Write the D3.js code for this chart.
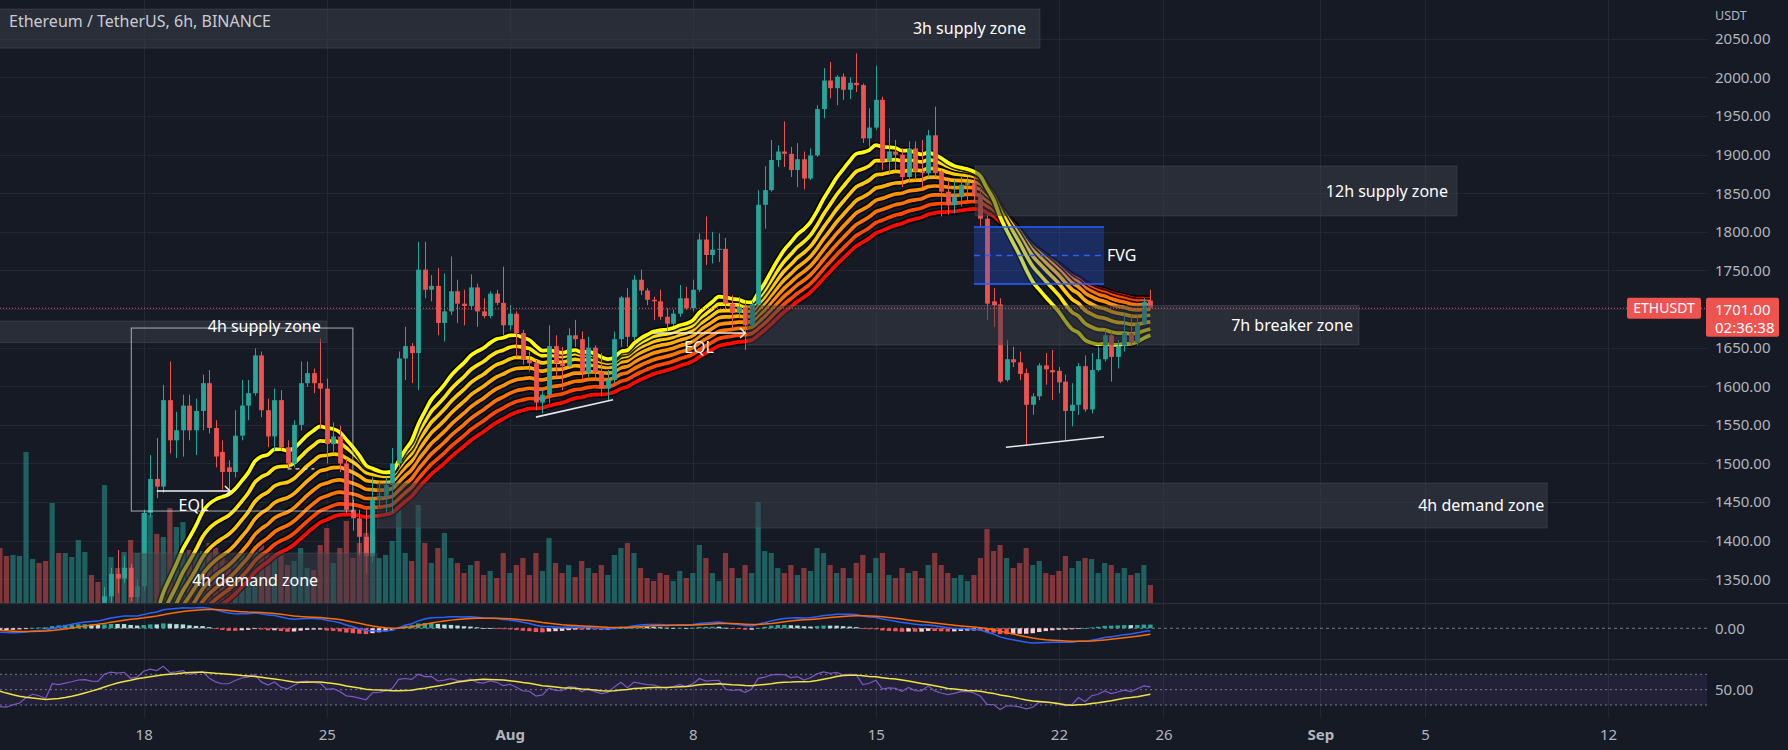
<!DOCTYPE html>
<html><head><meta charset="utf-8">
<script src="https://cdn.jsdelivr.net/npm/d3@7"></script>
<style>html,body{margin:0;background:#161a25;}svg{display:block}</style>
</head><body>
<svg id="c" width="1788" height="750"></svg>
<script>
// ---------- DATA (ETHUSDT 6h, first bar 2022-07-12 12:00 UTC) ----------
const FIRST_BAR = Date.UTC(2022,6,12,12);
const BAR_MS = 6*3600*1000;
const O=[1060,1045,1038,1050,1060,1090,1113,1100,1075,1200,1192,1210,1225,1245,1250,1244,1238,1328,1357,1351,
1365,1327,1341,1436,1480,1470,1582,1530,1543,1575,1543,1568,1604,1546,1515,1495,1489,1536,1575,1591,
1640,1569,1535,1582,1521,1500,1550,1604,1617,1604,1597,1525,1535,1500,1440,1429,1405,1380,1453,1458,
1472,1500,1636,1652,1643,1751,1725,1730,1682,1697,1723,1707,1704,1728,1697,1691,1720,1708,1679,1694,
1669,1634,1630,1579,1589,1652,1630,1626,1666,1661,1618,1650,1618,1597,1608,1661,1715,1664,1738,1724,
1712,1710,1690,1681,1694,1714,1701,1725,1790,1770,1777,1778,1707,1695,1703,1679,1706,1835,1854,1893,
1904,1901,1880,1894,1869,1899,1959,1996,1986,2001,1984,1993,1990,1921,1935,1971,1891,1904,1900,1871,
1908,1878,1876,1925,1878,1852,1835,1845,1861,1863,1848,1817,1710,1706,1608,1635,1631,1617,1576,1587,
1627,1621,1620,1606,1568,1576,1626,1570,1621,1635,1666,1638,1652,1669,1656,1681,1711];
const H=[1068,1052,1058,1066,1100,1118,1120,1105,1205,1212,1215,1230,1250,1262,1256,1250,1340,1365,1388,1380,
1370,1350,1440,1511,1533,1602,1632,1567,1589,1589,1584,1615,1621,1556,1530,1504,1569,1608,1608,1649,
1645,1584,1597,1595,1530,1556,1632,1632,1623,1662,1610,1553,1549,1506,1453,1440,1440,1482,1478,1482,
1520,1645,1677,1656,1787,1787,1744,1753,1746,1768,1738,1725,1745,1733,1714,1723,1725,1755,1705,1697,
1673,1645,1634,1595,1679,1666,1651,1675,1686,1671,1664,1653,1643,1621,1671,1717,1727,1744,1751,1727,
1716,1725,1701,1699,1731,1729,1738,1798,1820,1800,1798,1792,1718,1716,1712,1710,1854,1885,1919,1912,
1943,1910,1915,1904,1908,1964,2012,2020,2003,2005,2000,2031,1992,1960,2015,1975,1934,1919,1908,1917,
1917,1919,1932,1962,1880,1867,1867,1871,1871,1871,1858,1822,1727,1714,1660,1651,1645,1623,1591,1630,
1643,1647,1625,1615,1604,1630,1640,1643,1651,1673,1671,1660,1694,1692,1692,1714,1725];
const L=[1040,1030,1032,1045,1006,1085,1095,1070,1070,1185,1185,1205,1218,1238,1232,1228,1235,1320,1332,1345,
1322,1315,1335,1430,1455,1462,1513,1507,1509,1530,1511,1543,1539,1495,1466,1466,1482,1530,1556,1588,
1560,1521,1517,1517,1495,1495,1543,1599,1591,1545,1500,1513,1489,1436,1413,1380,1358,1371,1444,1436,
1436,1495,1608,1604,1595,1714,1710,1666,1658,1692,1682,1679,1699,1677,1688,1688,1705,1666,1673,1638,
1628,1619,1569,1565,1578,1612,1595,1625,1651,1608,1612,1610,1587,1582,1604,1651,1651,1660,1718,1705,
1686,1686,1671,1678,1690,1699,1697,1722,1757,1759,1761,1699,1673,1688,1647,1677,1705,1804,1852,1884,
1884,1871,1858,1855,1867,1897,1947,1973,1964,1971,1972,1981,1915,1910,1932,1880,1876,1880,1858,1866,
1867,1858,1871,1871,1820,1822,1824,1833,1837,1837,1807,1686,1677,1604,1606,1625,1608,1524,1563,1582,
1602,1582,1591,1530,1548,1563,1567,1565,1619,1632,1606,1623,1645,1653,1653,1679,1699];
const C=[1045,1038,1050,1060,1090,1113,1100,1075,1200,1192,1210,1225,1245,1250,1240,1238,1328,1357,1351,1365,
1327,1341,1436,1480,1470,1582,1530,1543,1575,1543,1568,1604,1546,1509,1489,1489,1536,1575,1591,1640,
1569,1535,1582,1521,1500,1550,1604,1617,1604,1597,1525,1535,1500,1440,1429,1405,1380,1453,1458,1472,
1500,1636,1652,1643,1751,1725,1730,1682,1697,1723,1707,1704,1728,1697,1691,1720,1708,1679,1694,1669,
1634,1630,1579,1589,1652,1630,1626,1666,1661,1618,1650,1618,1597,1608,1661,1715,1664,1738,1724,1712,
1710,1690,1681,1694,1714,1701,1725,1790,1770,1777,1778,1707,1695,1703,1679,1706,1835,1854,1893,1904,
1901,1880,1894,1869,1899,1959,1996,1986,2001,1984,1993,1990,1921,1935,1971,1891,1904,1900,1871,1908,
1878,1876,1925,1876,1852,1835,1845,1861,1863,1848,1817,1707,1705,1606,1635,1631,1616,1576,1587,1627,
1622,1618,1605,1568,1576,1626,1570,1621,1635,1666,1638,1652,1669,1656,1681,1709,1701];
// volume, in 10k ETH
const V=[55,47,48,47,151,44,40,42,100,50,50,46,63,51,28,21,118,46,35,51,
63,50,90,88,69,66,95,76,81,53,50,52,60,55,48,42,45,50,40,58,
62,48,46,50,38,42,55,35,33,58,75,40,55,82,45,60,70,68,45,48,
62,98,50,42,98,60,40,55,70,45,40,30,38,42,28,32,25,50,30,38,
45,28,50,32,65,40,30,38,26,42,35,30,38,28,48,55,60,50,35,25,
22,30,28,22,32,25,30,58,45,30,22,50,35,25,38,30,101,52,50,35,
30,38,28,35,32,55,50,38,30,35,25,40,48,30,45,50,28,25,35,30,
32,25,38,50,38,30,25,28,22,28,45,74,52,58,45,35,40,55,38,42,
30,28,32,47,35,42,45,44,30,40,38,30,35,28,30,38,18];

// indicator settings and warm-up estimates for values before the first visible bar
const ribbonLengths=[20,25,30,35,40,45,50,55];
const ribbonSeeds=[1150,1152,1152,1150,1148,1146,1144,1142];
const macdSeeds={fast:1090, slow:1108, signal:-8};
const rsiSeeds={prevClose:1060, avgGain:7, avgLoss:17};
const rsiPrior=[60,60,59,58,58,57,52,48,45,42,38,34,31];

const priceTicks=[1350,1400,1450,1500,1550,1600,1650,1700,1750,1800,1850,1900,1950,2000,2050];
const timeTicks=[["2022-07-18","18"],["2022-07-25","25"],["2022-08-01","Aug"],["2022-08-08","8"],["2022-08-15","15"],
["2022-08-22","22"],["2022-08-26","26"],["2022-09-01","Sep"],["2022-09-05","5"],["2022-09-12","12"]];

// zones: [label, startBar, endBar, topPrice, bottomPrice]
const zones=[["3h supply zone",-2,159.1,2088.6,2038],["12h supply zone",149.2,222.9,1885.3,1820.5],
["7h breaker zone",114.3,207.9,1704.6,1653.4],["4h supply zone",-2,50.0,1684.5,1656.7],
["4h demand zone",20.4,57.7,1384,1290],["4h demand zone",57.7,236.7,1474.7,1416.4]];
const fvg=[149.0,168.9,1806.2,1732.4];
const boxOutline=[20.1,54.0,1675.4,1438.4];
const trendLines=[[82.0,1560,93.8,1582.6],[153.9,1521,168.9,1534.6]];
const eqlLines=[[24.0,35.2,1464.3],[99.9,114.0,1669]];
const eqlDash=[44,48.1,1493];
const lastPrice=1701.00, countdown="02:36:38";

// ---------- SETUP ----------
const svg=d3.select('#c');
const AX=1707, PANE_B=603, MACD_T=604, MACD_B=659, RSI_T=660, RSI_B=718;
const barTime=i=>new Date(FIRST_BAR+i*BAR_MS);
const x=d3.scaleUtc().domain([new Date(Date.UTC(2022,6,18)),new Date(Date.UTC(2022,8,12))]).range([143.7,1608]);
const xi=i=>x(barTime(i));
const y=d3.scaleLinear().domain([1350,2050]).range([579.3,38.8]);
const yv=d3.scaleLinear().domain([0,151]).range([PANE_B,PANE_B-151]);
const idx=d3.range(C.length);
const FONT="'Noto Sans', 'DejaVu Sans', sans-serif";
const UP='#26a69a', DN='#ef5350';

svg.append('rect').attr('width',1788).attr('height',750).attr('fill','#161a25');
const defs=svg.append('defs');
defs.append('clipPath').attr('id','cp').append('rect').attr('x',0).attr('y',0).attr('width',AX).attr('height',PANE_B);
defs.append('clipPath').attr('id','cm').append('rect').attr('x',0).attr('y',MACD_T).attr('width',AX).attr('height',MACD_B-MACD_T);
defs.append('clipPath').attr('id','cr').append('rect').attr('x',0).attr('y',RSI_T).attr('width',AX).attr('height',RSI_B-RSI_T);

// grid
const grid=svg.append('g').attr('stroke','#232733').attr('stroke-width',1);
timeTicks.forEach(([d])=>{const gx=Math.round(x(new Date(d+'T00:00:00Z')))+0.5;
  grid.append('line').attr('x1',gx).attr('x2',gx).attr('y1',0).attr('y2',RSI_B);});
priceTicks.forEach(p=>{const gy=Math.round(y(p))+0.5;
  grid.append('line').attr('x1',0).attr('x2',AX).attr('y1',gy).attr('y2',gy);});
[PANE_B+0.5, MACD_B+0.5].forEach(sy=>svg.append('line').attr('x1',0).attr('x2',1788).attr('y1',sy).attr('y2',sy).attr('stroke','#2a2e39').attr('stroke-width',1.5));

// ---------- PRICE PANE ----------
const pp=svg.append('g').attr('clip-path','url(#cp)');
pp.append('g').selectAll('rect').data(idx).join('rect')
  .attr('x',i=>xi(i)-2.6).attr('width',5.2)
  .attr('y',i=>yv(V[i])).attr('height',i=>PANE_B-yv(V[i]))
  .attr('fill',i=>C[i]>=O[i]?'rgba(38,166,154,0.5)':'rgba(239,83,80,0.5)');

function ema(src,len,seed){const a=2/(len+1);let e=seed;return src.map(v=>e=e+a*(v-e));}
const ribbon=ribbonLengths.map((l,k)=>ema(C,l,ribbonSeeds[k]));
const ribbonColors=['#ffff00','#ffe600','#ffcb00','#ffaf00','#ff9200','#ff7300','#ff4a00','#ff0a00'];
const line=d3.line().x((d,i)=>xi(i)).y(d=>y(d)).curve(d3.curveMonotoneX);
const rg=pp.append('g').attr('fill','none').attr('stroke-linejoin','round');
for(let k=ribbon.length-1;k>=0;k--){
  rg.append('path').attr('d',line(ribbon[k])).attr('stroke','#000').attr('stroke-opacity',0.85).attr('stroke-width',7);
  rg.append('path').attr('d',line(ribbon[k])).attr('stroke',ribbonColors[k]).attr('stroke-width',3.7);
}

const cg=pp.append('g');
cg.selectAll('line').data(idx).join('line')
  .attr('x1',i=>Math.round(xi(i))+0.5).attr('x2',i=>Math.round(xi(i))+0.5)
  .attr('y1',i=>y(H[i])).attr('y2',i=>y(L[i]))
  .attr('stroke',i=>C[i]>=O[i]?UP:DN).attr('stroke-width',1);
cg.selectAll('rect').data(idx).join('rect')
  .attr('x',i=>Math.round(xi(i))+0.5-2.4).attr('width',4.8)
  .attr('y',i=>y(Math.max(O[i],C[i]))).attr('height',i=>Math.max(1,Math.abs(y(O[i])-y(C[i]))))
  .attr('fill',i=>C[i]>=O[i]?UP:DN);

const zg=pp.append('g');
zones.forEach(([lab,a,b,t,bt])=>{
  zg.append('rect').attr('x',xi(a)).attr('width',xi(b)-xi(a)).attr('y',y(t)).attr('height',y(bt)-y(t))
    .attr('fill','rgba(60,63,74,0.52)').attr('stroke','rgba(120,123,134,0.25)').attr('stroke-width',1);
});
const [fa,fb,ft,fbt]=fvg;
zg.append('rect').attr('x',xi(fa)).attr('width',xi(fb)-xi(fa)).attr('y',y(ft)).attr('height',y(fbt)-y(ft)).attr('fill','rgba(41,98,255,0.27)');
[ft,fbt].forEach(p=>zg.append('line').attr('x1',xi(fa)).attr('x2',xi(fb)).attr('y1',y(p)).attr('y2',y(p)).attr('stroke','#2962ff').attr('stroke-width',1.5));
zg.append('line').attr('x1',xi(fa)).attr('x2',xi(fb)).attr('y1',y((ft+fbt)/2)).attr('y2',y((ft+fbt)/2))
  .attr('stroke','#2962ff').attr('stroke-width',1.5).attr('stroke-dasharray','6 5');
zg.append('rect').attr('x',xi(boxOutline[0])).attr('width',xi(boxOutline[1])-xi(boxOutline[0]))
  .attr('y',y(boxOutline[2])).attr('height',y(boxOutline[3])-y(boxOutline[2]))
  .attr('fill','none').attr('stroke','rgba(215,217,224,0.75)').attr('stroke-width',1);
trendLines.forEach(([a,pa,b,pb])=>zg.append('line').attr('x1',xi(a)).attr('y1',y(pa)).attr('x2',xi(b)).attr('y2',y(pb))
  .attr('stroke','#e8e8ec').attr('stroke-width',1.6));
eqlLines.forEach(([a,b,p])=>{
  const x2=xi(b), yy=y(p);
  zg.append('line').attr('x1',xi(a)).attr('x2',x2).attr('y1',yy).attr('y2',yy).attr('stroke','#f0f0f0').attr('stroke-width',1.6);
  zg.append('path').attr('d',`M${x2-5},${yy-5}L${x2},${yy}L${x2-5},${yy+5}`).attr('fill','none').attr('stroke','#f0f0f0').attr('stroke-width',1.6);
});
zg.append('line').attr('x1',xi(eqlDash[0])).attr('x2',xi(eqlDash[1])).attr('y1',y(eqlDash[2])).attr('y2',y(eqlDash[2]))
  .attr('stroke','#e0e0e0').attr('stroke-width',1.2).attr('stroke-dasharray','4 4');

pp.append('line').attr('x1',0).attr('x2',AX).attr('y1',y(lastPrice)).attr('y2',y(lastPrice))
  .attr('stroke',DN).attr('stroke-width',1).attr('stroke-dasharray','1 2');

const tg=svg.append('g').attr('font-family',FONT).attr('font-size',16).attr('fill','#ffffff');
const zt=(k,dx,anchor)=>{const z=zones[k];
  tg.append('text').attr('x',xi(z[2])-dx).attr('y',(y(z[3])+y(z[4]))/2)
    .attr('dy','0.35em').attr('text-anchor',anchor).text(z[0]);};
zt(0,14,'end'); zt(1,9,'end'); zt(2,6,'end'); zt(5,3,'end');
tg.append('text').attr('x',xi(zones[3][2])-6).attr('y',y(1660)-14).attr('dy','0.35em').attr('text-anchor','end').text(zones[3][0]);
tg.append('text').attr('x',(xi(zones[4][1])+xi(zones[4][2]))/2).attr('y',y(1349)).attr('dy','0.35em').attr('text-anchor','middle').text(zones[4][0]);
tg.append('text').attr('x',xi(fb)+3).attr('y',y((ft+fbt)/2)).attr('dy','0.35em').text('FVG');
eqlLines.forEach(([a,b,p])=>tg.append('text').attr('x',(xi(a)+xi(b))/2).attr('y',y(p)+14).attr('dy','0.35em').attr('text-anchor','middle').text('EQL'));

svg.append('text').attr('x',9).attr('y',21.5).attr('dy','0.35em').attr('font-family',FONT).attr('font-size',16)
  .attr('fill','#c9ccd4').text('Ethereum / TetherUS, 6h, BINANCE');

// ---------- MACD PANE ----------
const e12=ema(C,12,macdSeeds.fast), e26=ema(C,26,macdSeeds.slow);
const macd=e12.map((v,i)=>v-e26[i]);
const sig=ema(macd,9,macdSeeds.signal);
const hist=macd.map((v,i)=>v-sig[i]);
const ym=d3.scaleLinear().domain(d3.extent(macd.concat(sig,hist))).range([643,607.5]);
const mp=svg.append('g').attr('clip-path','url(#cm)');
mp.append('line').attr('x1',0).attr('x2',AX).attr('y1',ym(0)).attr('y2',ym(0)).attr('stroke','#787b86').attr('stroke-width',1).attr('stroke-dasharray','3 3');
mp.append('g').selectAll('rect').data(idx).join('rect')
  .attr('x',i=>xi(i)-2.2).attr('width',4.4)
  .attr('y',i=>Math.min(ym(hist[i]),ym(0))).attr('height',i=>Math.max(0.8,Math.abs(ym(hist[i])-ym(0))))
  .attr('fill',i=>{const h=hist[i],p=i?hist[i-1]:h;return h>=0?(h>p?'#26a69a':'#b2dfdb'):(h<p?'#ff5252':'#ffcdd2');});
const ml=d3.line().x((d,i)=>xi(i)).y(d=>ym(d));
mp.append('path').attr('d',ml(macd)).attr('fill','none').attr('stroke','#2962ff').attr('stroke-width',1.5);
mp.append('path').attr('d',ml(sig)).attr('fill','none').attr('stroke','#ff6d00').attr('stroke-width',1.5);

// ---------- RSI PANE ----------
function rsiCalc(src,len,s){let ag=s.avgGain,al=s.avgLoss,pc=s.prevClose;
  return src.map(c=>{const ch=c-pc;pc=c;ag=(ag*(len-1)+Math.max(ch,0))/len;al=(al*(len-1)+Math.max(-ch,0))/len;return al===0?100:100-100/(1+ag/al);});}
const rsi=rsiCalc(C,14,rsiSeeds);
const allR=rsiPrior.concat(rsi);
const rsiMa=rsi.map((v,i)=>d3.mean(allR.slice(i,i+14)));
const yr=d3.scaleLinear().domain([30,70]).range([705,674.3]);
const rp=svg.append('g').attr('clip-path','url(#cr)');
rp.append('rect').attr('x',0).attr('width',AX).attr('y',yr(70)).attr('height',yr(30)-yr(70)).attr('fill','rgba(126,87,194,0.12)');
[70,50,30].forEach(v=>rp.append('line').attr('x1',0).attr('x2',AX).attr('y1',yr(v)).attr('y2',yr(v))
  .attr('stroke','#787b86').attr('stroke-width',1).attr('stroke-dasharray','2 3'));
const rl=d3.line().x((d,i)=>xi(i)).y(d=>yr(d));
rp.append('path').attr('d',rl(rsi)).attr('fill','none').attr('stroke','#7e57c2').attr('stroke-width',1.2);
rp.append('path').attr('d',rl(rsiMa)).attr('fill','none').attr('stroke','#f0e442').attr('stroke-width',1.5);

// ---------- AXES ----------
const styleAx=g=>{g.select('.domain').remove();g.selectAll('text').attr('font-family',FONT).attr('font-size',15).attr('fill','#b2b5be');};
svg.append('g').attr('transform',`translate(${AX},0)`)
  .call(d3.axisRight(y).tickValues(priceTicks).tickFormat(d=>d.toFixed(2)).tickSize(0).tickPadding(8)).call(styleAx);
svg.append('text').attr('x',AX+8).attr('y',16).attr('dy','0.35em').attr('font-family',FONT).attr('font-size',12.5).attr('fill','#b2b5be').text('USDT');
svg.append('g').attr('transform',`translate(${AX},0)`).call(d3.axisRight(ym).tickValues([0]).tickFormat(d=>d.toFixed(2)).tickSize(0).tickPadding(8)).call(styleAx);
svg.append('g').attr('transform',`translate(${AX},0)`).call(d3.axisRight(yr).tickValues([50]).tickFormat(d=>d.toFixed(2)).tickSize(0).tickPadding(8)).call(styleAx);

const tickMap=new Map(timeTicks.map(([d,l])=>[+new Date(d+'T00:00:00Z'),l]));
const axX=svg.append('g').attr('transform','translate(0,727)')
  .call(d3.axisBottom(x).tickValues(timeTicks.map(([d])=>new Date(d+'T00:00:00Z'))).tickFormat(d=>tickMap.get(+d)).tickSize(0).tickPadding(0));
axX.select('.domain').remove();
axX.selectAll('text').attr('font-family',FONT).attr('font-size',15).attr('fill','#b2b5be').attr('dy','0.35em')
  .attr('font-weight',d=>isNaN(+tickMap.get(+d))?'bold':'normal').attr('y',8);

const py=y(lastPrice);
svg.append('rect').attr('x',1627).attr('y',py-10.5).attr('width',74).attr('height',21).attr('rx',2).attr('fill',DN);
svg.append('text').attr('x',1664).attr('y',py).attr('dy','0.35em').attr('text-anchor','middle').attr('font-family',FONT).attr('font-size',14).attr('fill','#fff').text('ETHUSDT');
svg.append('rect').attr('x',AX-1).attr('y',py-10.5).attr('width',73).attr('height',39).attr('rx',2).attr('fill',DN);
svg.append('text').attr('x',AX+8).attr('y',py+1).attr('dy','0.35em').attr('font-family',FONT).attr('font-size',15).attr('fill','#fff').text(lastPrice.toFixed(2));
svg.append('text').attr('x',AX+8).attr('y',py+19).attr('dy','0.35em').attr('font-family',FONT).attr('font-size',15).attr('fill','#fff').text(countdown);
</script>
</body></html>
